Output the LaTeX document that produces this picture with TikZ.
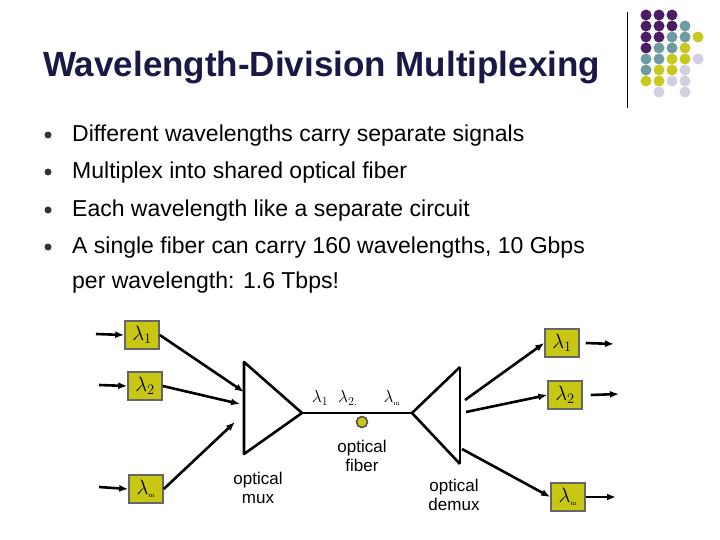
\documentclass[tikz,border=0pt]{standalone}
\usepackage{fontspec}
\setmainfont{Liberation Sans}
\newfontfamily\lmr{Latin Modern Roman}
\usetikzlibrary{arrows.meta}
\definecolor{ttl}{RGB}{25,25,70}
\definecolor{dP}{RGB}{75,30,100}
\definecolor{dT}{RGB}{110,155,160}
\definecolor{dY}{RGB}{200,200,30}
\definecolor{dL}{RGB}{208,208,225}
\definecolor{bx}{RGB}{200,200,20}
\newcommand{\lm}{\lambda_{\hbox{\lmr\scriptsize m}}}
\tikzset{
 lbox/.style={draw=gray!80!black,line width=1.5pt,fill=bx,minimum width=34pt,minimum height=28pt,inner sep=0pt,font=\fontsize{20}{20}\selectfont},
 arr/.style={line width=2.6pt,-{Latex[length=9pt,width=7pt]}},
 ln/.style={line width=2.6pt},
 lab/.style={font=\fontsize{17}{19}\selectfont,align=center},
 bul/.style={font=\fontsize{23}{23}\selectfont,anchor=base west,inner sep=0pt},
}
\begin{document}
\begin{tikzpicture}[x=1pt,y=-1pt]
\useasboundingbox (0,0) rectangle (720,540);
\fill[white] (0,0) rectangle (720,540);
\node[anchor=base west,inner sep=0pt,text=ttl,font=\fontsize{35}{35}\selectfont\bfseries] (title) at (43,77) {Wavelength-Division Multiplexing};
\draw[line width=0.8pt] (627,12) -- (627,108);
\foreach \r/\row in {0/{P,P,P},1/{P,P,P,T},2/{P,P,T,T,Y},3/{P,T,T,Y},4/{T,T,Y,Y,L},5/{T,Y,Y,L},6/{Y,Y,L,L}}{
 \foreach \c [count=\i from 0] in \row { \fill[d\c] (646+\i*13,{15+\r*11}) circle (5.5); } }
\fill[dL] (659,92) circle (5.5); \fill[dL] (685,92) circle (5.5);
\foreach \y/\t in {142/{Different  wavelengths carry separate signals},179/{Multiplex into shared optical fiber},217/{Each wavelength like a separate circuit},254/{A single fiber can carry 160 wavelengths, 10 Gbps}}{
 \fill[black!80] (48,\y-7) circle (3.5);
 \node[bul] at (72,\y) {\t};}
\node[bul] (last) at (72,288) {per wavelength:  1.6 Tbps!};
% boxes
\node[lbox] (a1) at (142,335) {$\lambda_1$};
\node[lbox] (a2) at (145,386) {$\lambda_2$};
\node[lbox] (am) at (146,489) {$\lm$};
\node[lbox] (b1) at (562,343) {$\lambda_1$};
\node[lbox] (b2) at (565,395) {$\lambda_2$};
\node[lbox] (bm) at (568,497) {$\lm$};
\coordinate (i1) at (96,334); \coordinate (i2) at (99,385); \coordinate (im) at (99,487);
\draw[arr] (i1) -- (a1.west); \draw[arr] (i2) -- (a2.west); \draw[arr] (im) -- (am.west);
\coordinate (o1) at (614,344); \coordinate (o2) at (619,394); \coordinate (om) at (616,497);
\draw[arr] (b1.east)++(6,0) -- (o1); \draw[arr] (b2.east)++(8,0) -- (o2); \draw[arr] (bm.east) -- (om);
% mux/demux
\coordinate (mt) at (244,362); \coordinate (mb) at (244,454); \coordinate (mx) at (302,413);
\coordinate (dx) at (412,413); \coordinate (dt) at (460,367); \coordinate (db) at (460,464);
\draw[ln,line join=round] (mt) -- (mb) -- (mx) -- cycle;
\draw[ln] (dt) -- (db); \draw[ln] (dt) -- (dx) -- (db);
\draw[ln] (mx) -- (dx);
\draw[arr] (a1.east) -- (244,392);
\draw[arr] (a2.east) -- (240,404);
\draw[arr] (am.east) -- (235,422);
\draw[arr] (465,400) -- (b1.west);
\draw[arr] (466,412) -- (b2.west);
\draw[arr] (462,449) -- (bm.west);
\node[draw=black!70,line width=1.5pt,fill=dY,circle,inner sep=0pt,minimum size=11pt] (dot) at (362,422) {};
\node[font=\fontsize{17}{17}\selectfont] (l1) at (320,398) {$\lambda_1$};
\node[font=\fontsize{17}{17}\selectfont] (l2) at (348,398) {$\lambda_{2.}$};
\node[font=\fontsize{17}{17}\selectfont] (lm) at (392,398) {$\lm$};
\node[lab] (fib) at (362,456) {optical\\fiber};
\node[lab] (mux) at (258,488) {optical\\mux};
\node[lab] (dmx) at (454,495) {optical\\demux};
\end{tikzpicture}
\end{document}
